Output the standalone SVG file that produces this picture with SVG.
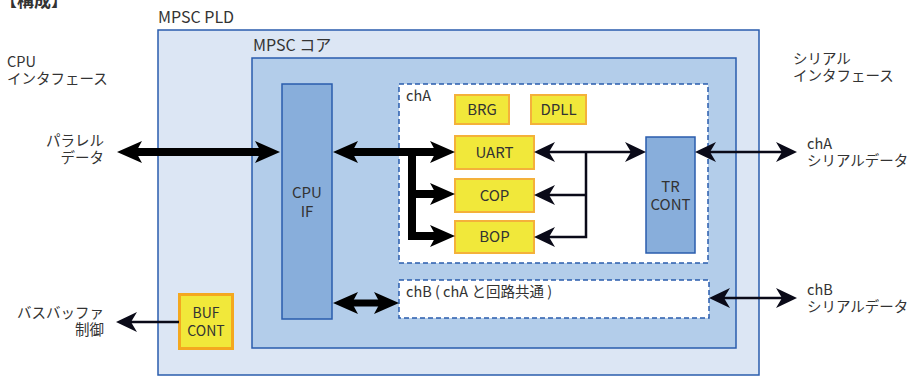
<svg xmlns="http://www.w3.org/2000/svg" width="913" height="376" viewBox="0 0 913 376">
<style>
text{font-family:"Noto Sans CJK JP","Open Sans","Liberation Sans",sans-serif;fill:#333;font-size:15px}
.lbl{font-size:14.5px}
.side{font-size:14.5px}
.c{text-anchor:middle}
.r{text-anchor:end}
.blk{fill:#f1e83a;stroke:#f4b13a;stroke-width:2}
.blue{fill:#88aedb;stroke:#2a5cad;stroke-width:1.5}
.dash{fill:#fff;stroke:#2a5cad;stroke-width:1.5;stroke-dasharray:5 3}
.thick{fill:none;stroke:#000;stroke-width:8;stroke-linejoin:miter}
.thin{fill:none;stroke:#0a0a18;stroke-width:2.5}
</style>
<defs>
<marker id="ah" viewBox="-26 -12 27 24" refX="-16" refY="0" markerWidth="27" markerHeight="24" orient="auto-start-reverse" markerUnits="userSpaceOnUse"><path d="M0,0 L-25,-11 L-19,0 L-25,11 Z" fill="#000"/></marker>
<marker id="at" viewBox="-22 -11 23 22" refX="-14" refY="0" markerWidth="23" markerHeight="22" orient="auto-start-reverse" markerUnits="userSpaceOnUse"><path d="M0,0 L-21,-10 L-15,0 L-21,10 Z" fill="#0a0a18"/></marker>
</defs>
<text x="0" y="7" style="font-size:17px;font-weight:bold">【構成】</text>
<g id="pld">
<rect x="158" y="30" width="601" height="345" fill="#dce6f4" stroke="#2a5cad" stroke-width="1.5"/>
<text x="158" y="23" style="font-size:16px">MPSC PLD</text>
</g>
<g id="core">
<rect x="252" y="58" width="484" height="290" fill="#b3cdea" stroke="#2a5cad" stroke-width="1.5"/>
<text x="253" y="51" style="font-size:16px">MPSC コア</text>
</g>
<g id="cpuif">
<rect class="blue" x="282" y="84" width="50" height="235"/>
<text class="c" x="307" y="198">CPU</text>
<text class="c" x="307" y="217">IF</text>
</g>
<g id="cha">
<rect class="dash" x="399" y="84" width="309" height="179"/>
<text x="406" y="101" class="lbl">chA</text>
</g>
<g id="chb">
<rect class="dash" x="399" y="280" width="310" height="38"/>
<text x="406" y="297" class="lbl">chB ( chA と回路共通 )</text>
</g>
<g id="brg"><rect class="blk" x="455" y="95" width="54" height="29"/><text class="c" x="482" y="115">BRG</text></g>
<g id="dpll"><rect class="blk" x="531" y="95" width="55" height="29"/><text class="c" x="558.5" y="115">DPLL</text></g>
<g id="uart"><rect class="blk" x="455" y="136" width="79" height="33"/><text class="c" x="494.5" y="158">UART</text></g>
<g id="cop"><rect class="blk" x="455" y="179" width="79" height="33"/><text class="c" x="494.5" y="201">COP</text></g>
<g id="bop"><rect class="blk" x="455" y="221" width="79" height="32"/><text class="c" x="494.5" y="242">BOP</text></g>
<g id="trcont">
<rect class="blue" x="646" y="137" width="49" height="116"/>
<text class="c" x="670.5" y="192">TR</text>
<text class="c" x="670.5" y="210">CONT</text>
</g>
<g id="bufcont">
<rect x="179.5" y="294.5" width="53" height="54" fill="#f1e83a" stroke="#f4a81f" stroke-width="3"/>
<text class="c" x="206" y="318" style="font-size:14px">BUF</text>
<text class="c" x="206" y="336" style="font-size:14px">CONT</text>
</g>
<g id="labels" class="side">
<text class="side" x="7" y="67">CPU</text>
<text class="side" x="7" y="84">インタフェース</text>
<text class="side" x="793" y="64">シリアル</text>
<text class="side" x="793" y="81">インタフェース</text>
<text class="side r" x="104" y="146">パラレル</text>
<text class="side r" x="104" y="163">データ</text>
<text class="side r" x="104" y="318">バスバッファ</text>
<text class="side r" x="104" y="335">制御</text>
<text class="side" x="807" y="149">chA</text>
<text class="side" x="807" y="166">シリアルデータ</text>
<text class="side" x="807" y="295">chB</text>
<text class="side" x="807" y="312">シリアルデータ</text>
</g>
<g id="connectors">
<path class="thick" d="M133,152 H264" marker-start="url(#ah)" marker-end="url(#ah)"/>
<path class="thick" d="M349,152 H439" marker-start="url(#ah)" marker-end="url(#ah)"/>
<path class="thick" d="M412,152 V236 H439" marker-end="url(#ah)"/>
<path class="thick" d="M412,194 H439" marker-end="url(#ah)"/>
<path class="thick" style="stroke-width:7" d="M349,303 H383" marker-start="url(#ah)" marker-end="url(#ah)"/>
<path class="thin" d="M548,152 H632" marker-start="url(#at)" marker-end="url(#at)"/>
<path class="thin" d="M586,152 V237 H548" marker-end="url(#at)"/>
<path class="thin" d="M586,195 H548" marker-end="url(#at)"/>
<path class="thin" d="M709,152 H783" marker-start="url(#at)" marker-end="url(#at)"/>
<path class="thin" d="M723,298 H783" marker-start="url(#at)" marker-end="url(#at)"/>
<path class="thin" d="M179,322 H130" marker-end="url(#at)"/>
</g>
</svg>
